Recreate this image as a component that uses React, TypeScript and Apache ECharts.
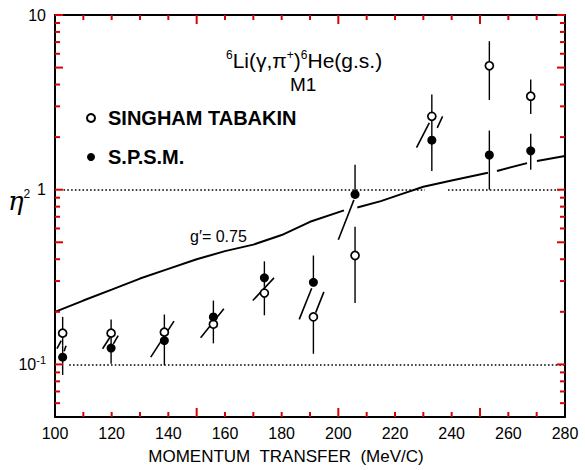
import React, { useEffect, useRef } from "react";
import * as echarts from "echarts";

// Momentum transfer (MeV/c) of each measurement
const momentum = [102.7, 119.8, 138.6, 155.9, 173.9, 191.2, 205.9, 233.0, 253.3, 267.9];

// Singham–Tabakin analysis (open circles): η² and error-bar limits
const tabakin = [0.151, 0.151, 0.153, 0.17, 0.256, 0.187, 0.42, 2.63, 5.12, 3.43];
const tabakinLow = [0.128, 0.138, 0.145, 0.132, 0.191, 0.115, 0.225, 2.2, 3.26, 2.71];
const tabakinHigh = [0.187, 0.181, 0.193, 0.178, 0.28, 0.187, 0.614, 3.51, 7.08, 4.28];

// S.P.S.M. analysis (filled circles): η² and error-bar limits
const spsm = [0.11, 0.124, 0.137, 0.187, 0.313, 0.295, 0.94, 1.92, 1.58, 1.67];
const spsmLow = [0.087, 0.101, 0.099, 0.178, 0.28, 0.295, 0.94, 1.28, 1.0, 1.3];
const spsmHigh = [0.128, 0.138, 0.145, 0.232, 0.389, 0.42, 1.39, 2.2, 2.18, 2.09];

// Slanted strokes through the points: [x1, η²1, x2, η²2]
const strokes = [
  [100.7, 0.123, 102.2, 0.137],
  [103.2, 0.119, 103.9, 0.128],
  [116.8, 0.123, 119.4, 0.143],
  [120.6, 0.131, 122.3, 0.146],
  [133.8, 0.11, 142.0, 0.177],
  [151.4, 0.142, 159.6, 0.208],
  [169.8, 0.232, 177.3, 0.313],
  [186.2, 0.181, 190.6, 0.273],
  [192.0, 0.198, 194.9, 0.26],
  [200.0, 0.517, 205.5, 0.875],
  [227.6, 1.74, 232.1, 2.41],
  [234.9, 2.26, 236.8, 2.63],
];

// g' = 0.75 calculation; the stroke is interrupted at curveBreaks
const curveX = [100, 110, 120, 130, 140, 150, 160, 170, 180, 190, 202.0, 206.7, 215, 222, 230, 240, 252.8, 256.0, 266.6, 270.1, 280];
const curveY = [0.2, 0.232, 0.268, 0.31, 0.352, 0.4, 0.445, 0.485, 0.55, 0.655, 0.762, 0.79, 0.86, 0.94, 1.04, 1.13, 1.25, 1.28, 1.42, 1.46, 1.56];
const curveBreaks = [204.3, 254.4, 268.4];

// Dotted guide lines: [η² level, x start, x end]
const guideLines = [
  [1, 103, 230.6],
  [1, 238.7, 278],
  [0.1, 105, 280],
];

// Frame ticks on the η² axis
const yMajorTicks = [0.1, 0.5, 1, 5, 10];
const yMinorTicks = [0.06, 0.07, 0.08, 0.09, 0.2, 0.3, 0.4, 0.6, 0.7, 0.8, 0.9, 2, 3, 4, 6, 7, 8, 9];

// Frame ticks on the momentum axis
const xMinorTicks = [110, 120, 130, 140, 160, 170, 180, 190, 210, 220, 230, 240, 260, 270];
const xMajorTicks = [150, 200, 250];

const FONT = "Liberation Sans";
const X_MIN = 100;
const X_MAX = 280;
const Y_MIN = 0.05;
const Y_MAX = 10;
const TICK_COLOR = "#d00";

function buildCurve() {
  const out: (number | string)[][] = [];
  let b = 0;
  for (let i = 0; i < curveX.length; i++) {
    while (b < curveBreaks.length && curveBreaks[b] < curveX[i]) {
      out.push([curveBreaks[b], "-"]);
      b++;
    }
    out.push([curveX[i], curveY[i]]);
  }
  return out;
}

function yLabel(v: number) {
  const lg = Math.log10(v);
  const e = Math.round(lg);
  if (Math.abs(lg - e) > 0.01) return "";
  if (e === 1) return "{n|10}";
  if (e === 0) return "{n|1}";
  if (e === -1) return "{n|10}{s|-1}";
  return "";
}

function isMajorY(v: number) {
  return yMajorTicks.some((t) => Math.abs(t - v) / t < 1e-6);
}

export default function App() {
  const ref = useRef<HTMLDivElement>(null);

  useEffect(() => {
    document.body.style.margin = "0";
    const chart = echarts.init(ref.current!, undefined, { renderer: "svg" });

    const axisLineStyle = { color: "#000", width: 2 };

    // Each entry: [x, η², kind]; kind 0 = left frame, 1 = right frame, 2 = bottom frame, 3 = top frame
    const allY = [...yMajorTicks, ...yMinorTicks];
    const allX = [...xMajorTicks, ...xMinorTicks];
    const tickData = [
      ...allY.map((v) => [X_MIN, v, 0]),
      ...allY.map((v) => [X_MAX, v, 1]),
      ...allX.map((x) => [x, Y_MIN, 2]),
      ...allX.map((x) => [x, Y_MAX, 3]),
    ];

    const option: any = {
      animation: false,
      grid: { left: 55, right: 20, top: 15, bottom: 47 },
      legend: {
        orient: "vertical",
        left: 81,
        top: 103,
        itemWidth: 24,
        itemHeight: 8,
        itemGap: 19,
        textStyle: { color: "#000", fontSize: 20, fontWeight: "bold", fontFamily: FONT },
        data: ["SINGHAM TABAKIN", "S.P.S.M."],
      },
      xAxis: [
        {
          type: "value",
          min: X_MIN,
          max: X_MAX,
          interval: 20,
          position: "bottom",
          splitLine: { show: false },
          axisLine: { show: true, onZero: false, lineStyle: axisLineStyle },
          axisTick: { show: false },
          axisLabel: { color: "#000", fontSize: 16, fontFamily: FONT, margin: 8 },
          name: "MOMENTUM  TRANSFER  (MeV/C)",
          nameLocation: "middle",
          nameGap: 31,
          nameTextStyle: { color: "#000", fontSize: 17, fontFamily: FONT, padding: [0, 48, 0, 0] },
        },
        {
          type: "value",
          min: X_MIN,
          max: X_MAX,
          interval: 20,
          position: "top",
          splitLine: { show: false },
          axisLine: { show: true, onZero: false, lineStyle: axisLineStyle },
          axisTick: { show: false },
          axisLabel: { show: false },
        },
      ],
      yAxis: [
        {
          type: "log",
          logBase: 10,
          min: Y_MIN,
          max: Y_MAX,
          position: "left",
          splitLine: { show: false },
          axisLine: { show: true, onZero: false, lineStyle: axisLineStyle },
          axisTick: { show: false },
          axisLabel: {
            formatter: yLabel,
            margin: 9,
            rich: {
              n: { color: "#000", fontSize: 16, fontFamily: FONT },
              s: { color: "#000", fontSize: 11, fontFamily: FONT, padding: [0, 0, 9, 0] },
            },
          },
        },
        {
          type: "log",
          logBase: 10,
          min: Y_MIN,
          max: Y_MAX,
          position: "right",
          splitLine: { show: false },
          axisLine: { show: true, onZero: false, lineStyle: axisLineStyle },
          axisTick: { show: false },
          axisLabel: { show: false },
        },
      ],
      graphic: [
        {
          type: "text",
          left: 8,
          top: 188,
          style: {
            text: "{e|η}{s|2}",
            rich: {
              e: { fontSize: 26, fontFamily: "DejaVu Serif", fontStyle: "italic", fill: "#000" },
              s: { fontSize: 12, fontFamily: FONT, fill: "#000", padding: [0, 0, 14, 0] },
            },
          },
        },
        {
          type: "text",
          left: 226,
          top: 49,
          style: {
            text: "{s|6}{t|Li(γ,π}{s|+}{t|)}{s|6}{t|He(g.s.)}",
            rich: {
              t: { fontSize: 21, fontFamily: FONT, fill: "#000" },
              s: { fontSize: 12, fontFamily: FONT, fill: "#000", padding: [0, 0, 11, 0] },
            },
          },
        },
        {
          type: "text",
          left: 290,
          top: 75,
          style: { text: "M1", fontSize: 19, fontFamily: FONT, fill: "#000" },
        },
        {
          type: "text",
          left: 190,
          top: 228,
          style: { text: "g′= 0.75", fontSize: 16, fontFamily: FONT, fill: "#000" },
        },
      ],
      series: [
        {
          type: "line",
          name: "g' = 0.75",
          data: buildCurve(),
          showSymbol: false,
          symbol: "none",
          connectNulls: false,
          lineStyle: { color: "#000", width: 2 },
          z: 2,
          silent: true,
          markLine: {
            silent: true,
            symbol: "none",
            label: { show: false },
            lineStyle: { color: "#000", width: 1.6, type: [1.6, 2.2] },
            data: guideLines.map(([lvl, a, b]) => [{ coord: [a, lvl] }, { coord: [b, lvl] }]),
          },
        },
        {
          type: "custom",
          name: "frame ticks",
          data: tickData,
          encode: { x: 0, y: 1 },
          z: 6,
          clip: false,
          silent: true,
          renderItem: (_p: any, api: any) => {
            const x = api.value(0);
            const v = api.value(1);
            const kind = api.value(2);
            const p = api.coord([x, v]);
            let dx = 0;
            let dy = 0;
            if (kind === 0) dx = isMajorY(v) ? 8 : 5;
            else if (kind === 1) dx = -(isMajorY(v) ? 8 : 5);
            else {
              const len = xMajorTicks.indexOf(x) >= 0 ? 9 : 5;
              dy = kind === 2 ? -len : len;
            }
            return {
              type: "line",
              shape: { x1: p[0], y1: p[1], x2: p[0] + dx, y2: p[1] + dy },
              style: { stroke: TICK_COLOR, lineWidth: 2 },
            };
          },
        },
        {
          type: "custom",
          name: "strokes",
          data: strokes,
          encode: { x: [0, 2], y: [1, 3] },
          z: 3,
          silent: true,
          renderItem: (_p: any, api: any) => {
            const a = api.coord([api.value(0), api.value(1)]);
            const b = api.coord([api.value(2), api.value(3)]);
            return {
              type: "line",
              shape: { x1: a[0], y1: a[1], x2: b[0], y2: b[1] },
              style: { stroke: "#000", lineWidth: 1.6 },
            };
          },
        },
        {
          type: "custom",
          name: "errors",
          data: [
            ...momentum.map((x, i) => [x, tabakinLow[i], tabakinHigh[i]]),
            ...momentum.map((x, i) => [x, spsmLow[i], spsmHigh[i]]),
          ],
          encode: { x: 0, y: [1, 2] },
          z: 3,
          silent: true,
          renderItem: (_p: any, api: any) => {
            const a = api.coord([api.value(0), api.value(1)]);
            const b = api.coord([api.value(0), api.value(2)]);
            return {
              type: "line",
              shape: { x1: a[0], y1: a[1], x2: b[0], y2: b[1] },
              style: { stroke: "#000", lineWidth: 1.4 },
            };
          },
        },
        {
          type: "scatter",
          name: "SINGHAM TABAKIN",
          data: momentum.map((x, i) => [x, tabakin[i]]),
          symbol: "circle",
          symbolSize: 8,
          itemStyle: { color: "#fff", borderColor: "#000", borderWidth: 1.7, opacity: 1 },
          z: 5,
        },
        {
          type: "scatter",
          name: "S.P.S.M.",
          data: momentum.map((x, i) => [x, spsm[i]]),
          symbol: "circle",
          symbolSize: 9,
          itemStyle: { color: "#000", opacity: 1 },
          z: 5,
        },
      ],
    };

    chart.setOption(option);
    return () => chart.dispose();
  }, []);

  return <div ref={ref} style={{ width: 585, height: 470, background: "#fff" }} />;
}
